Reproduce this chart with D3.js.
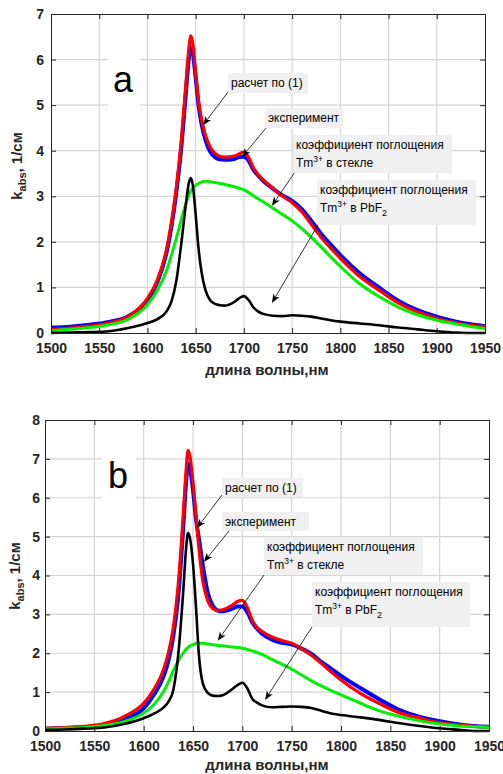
<!DOCTYPE html>
<html>
<head>
<meta charset="utf-8">
<script src="https://cdn.jsdelivr.net/npm/d3@7"></script>
<style>
body { margin: 0; background: #fff; }
text { font-family: "Liberation Sans", Arial, sans-serif; }
</style>
</head>
<body>
<svg width="503" height="774"></svg>
<script>
// wavelengths, nm (shared by every curve)
var wl = [1500,1520,1540,1560,1580,1600,1610,1620,1625,1630,1635,1640,1643,1645,1647,1650,1653,1656,1660,1665,1670,1675,1680,1690,1695,1700,1705,1710,1715,1720,1730,1740,1750,1760,1770,1780,1790,1800,1820,1840,1860,1880,1900,1920,1935,1950];

// panel a
var aCalc  = [0.08,0.11,0.15,0.22,0.36,0.76,1.15,1.85,2.45,3.20,4.20,5.50,6.25,6.52,6.35,5.70,5.10,4.70,4.35,4.08,3.94,3.88,3.86,3.88,3.93,3.97,3.85,3.62,3.47,3.36,3.18,3.00,2.86,2.66,2.38,2.10,1.86,1.64,1.24,0.94,0.66,0.46,0.32,0.22,0.17,0.14];
var aExp   = [0.12,0.14,0.18,0.24,0.37,0.72,1.10,1.78,2.35,3.10,4.05,5.30,6.05,6.27,6.15,5.60,5.00,4.60,4.25,3.98,3.86,3.81,3.80,3.82,3.86,3.87,3.78,3.58,3.45,3.34,3.17,3.02,2.90,2.72,2.46,2.18,1.94,1.71,1.31,1.00,0.71,0.50,0.36,0.25,0.19,0.15];
var aGlass = [0.05,0.08,0.12,0.18,0.30,0.62,0.92,1.38,1.72,2.08,2.48,2.85,3.03,3.12,3.18,3.24,3.28,3.31,3.33,3.32,3.30,3.28,3.26,3.21,3.18,3.14,3.08,3.01,2.94,2.88,2.74,2.60,2.46,2.29,2.10,1.89,1.67,1.46,1.08,0.80,0.57,0.40,0.28,0.20,0.14,0.10];
var aPbF2  = [0.00,0.01,0.02,0.04,0.11,0.22,0.30,0.48,0.70,1.15,1.95,2.85,3.30,3.40,3.25,2.60,1.85,1.35,0.95,0.72,0.64,0.61,0.60,0.68,0.76,0.81,0.72,0.56,0.47,0.42,0.38,0.37,0.39,0.38,0.36,0.32,0.28,0.25,0.21,0.17,0.12,0.08,0.04,0.01,0.00,0.00];

// panel b
var bCalc  = [0.07,0.09,0.12,0.19,0.37,0.71,1.05,1.57,2.00,2.65,3.75,5.50,6.70,7.22,7.05,6.40,5.55,4.70,3.85,3.35,3.15,3.10,3.12,3.24,3.33,3.36,3.18,2.85,2.66,2.56,2.42,2.33,2.26,2.12,1.95,1.74,1.52,1.31,0.96,0.69,0.46,0.33,0.21,0.15,0.12,0.11];
var bExp   = [0.06,0.08,0.10,0.15,0.31,0.58,0.92,1.40,1.80,2.43,3.45,5.20,6.40,6.88,6.75,6.20,5.45,4.95,4.25,3.55,3.22,3.10,3.08,3.15,3.20,3.20,3.06,2.80,2.63,2.50,2.35,2.27,2.23,2.12,1.98,1.78,1.60,1.42,1.10,0.80,0.53,0.36,0.25,0.17,0.13,0.11];
var bGlass = [0.05,0.07,0.09,0.14,0.24,0.46,0.67,1.01,1.25,1.55,1.80,2.00,2.10,2.15,2.19,2.22,2.25,2.26,2.26,2.24,2.22,2.20,2.19,2.16,2.15,2.13,2.10,2.06,2.02,1.97,1.84,1.72,1.59,1.44,1.29,1.16,1.04,0.93,0.71,0.51,0.37,0.26,0.18,0.13,0.11,0.09];
var bPbF2  = [0.03,0.04,0.06,0.09,0.18,0.33,0.44,0.60,0.75,1.05,1.95,3.55,4.70,5.10,4.95,4.30,3.20,1.95,1.22,0.98,0.91,0.90,0.92,1.08,1.18,1.24,1.10,0.83,0.73,0.66,0.61,0.62,0.63,0.62,0.59,0.52,0.45,0.41,0.35,0.28,0.20,0.13,0.07,0.03,0.00,0.00];

var xTicks = [1500,1550,1600,1650,1700,1750,1800,1850,1900,1950];
var yTicksA = [0,1,2,3,4,5,6,7];
var yTicksB = [0,1,2,3,4,5,6,7,8];

var svg = d3.select('svg');
svg.append('rect').attr('width', 503).attr('height', 774).attr('fill', '#fff');

var axisColor = '#262626';

function drawPanel(p) {
	var x = d3.scaleLinear().domain([1500, 1950]).range([p.left, p.right]);
	var y = d3.scaleLinear().domain([0, p.ymax]).range([p.bottom, p.top]);
	var g = svg.append('g');

	// grid
	g.append('g').selectAll('line').data(xTicks.slice(1, -1)).enter().append('line')
		.attr('x1', function(d){return x(d)}).attr('x2', function(d){return x(d)})
		.attr('y1', p.top).attr('y2', p.bottom)
		.attr('stroke', '#d4d4d4').attr('stroke-width', 1.2);
	g.append('g').selectAll('line').data(p.yTicks.slice(1, -1)).enter().append('line')
		.attr('y1', function(d){return y(d)}).attr('y2', function(d){return y(d)})
		.attr('x1', p.left).attr('x2', p.right)
		.attr('stroke', '#d4d4d4').attr('stroke-width', 1.2);

	// panel letter with white background
	g.append('rect').attr('x', p.letterBox[0]).attr('y', p.letterBox[1])
		.attr('width', p.letterBox[2]).attr('height', p.letterBox[3]).attr('fill', '#fff');
	g.append('text').attr('x', p.letterX).attr('y', p.letterY)
		.attr('text-anchor', 'middle').attr('font-size', 36).attr('fill', '#000')
		.text(p.letter);

	// curves
	var line = d3.line()
		.x(function(d, i){return x(wl[i])})
		.y(function(d){return y(d)})
		.curve(d3.curveMonotoneX);
	var series = [
		{v: p.exp, c: '#0000ff', w: 4},
		{v: p.calc, c: '#ff0000', w: 3.2},
		{v: p.glass, c: '#00ee00', w: 3},
		{v: p.pbf2, c: '#000000', w: 2.6}
	];
	g.selectAll('.curve').data(series).enter().append('path')
		.attr('class', 'curve')
		.attr('d', function(d){return line(d.v)})
		.attr('fill', 'none')
		.attr('stroke', function(d){return d.c})
		.attr('stroke-width', function(d){return d.w})
		.attr('stroke-linejoin', 'round');

	// axes (box with inward ticks)
	var bottom = d3.axisBottom(x).tickValues(xTicks).tickSize(-5).tickPadding(10).tickFormat(d3.format('d'));
	var top = d3.axisTop(x).tickValues(xTicks).tickSize(-5).tickFormat('');
	var left = d3.axisLeft(y).tickValues(p.yTicks).tickSize(-5).tickPadding(p.yPad).tickFormat(d3.format('d'));
	var right = d3.axisRight(y).tickValues(p.yTicks).tickSize(-5).tickFormat('');
	[[bottom, 'translate(0,' + p.bottom + ')'], [top, 'translate(0,' + p.top + ')'],
	 [left, 'translate(' + p.left + ',0)'], [right, 'translate(' + p.right + ',0)']].forEach(function(a) {
		var ax = g.append('g').attr('transform', a[1]).call(a[0]);
		ax.select('.domain').attr('stroke', axisColor).attr('stroke-width', 1);
		ax.selectAll('.tick line').attr('stroke', axisColor);
		ax.selectAll('text').attr('fill', axisColor).attr('font-size', 14)
			.attr('font-weight', 'bold').attr('font-family', '"Liberation Sans", Arial, sans-serif');
	});

	// axis titles
	g.append('text').attr('x', 267).attr('y', p.xTitleY)
		.attr('text-anchor', 'middle').attr('font-size', 15).attr('font-weight', 'bold')
		.attr('fill', axisColor).text('длина волны,нм');
	var yt = g.append('text')
		.attr('transform', 'translate(' + p.yTitleX + ',' + p.yTitleY + ') rotate(-90)')
		.attr('text-anchor', 'middle').attr('font-size', 15).attr('font-weight', 'bold')
		.attr('fill', axisColor);
	yt.append('tspan').text('k');
	yt.append('tspan').attr('font-size', 11).attr('dy', 4).text('abs');
	yt.append('tspan').attr('dy', -4).text(', 1/см');

	// annotations
	p.notes.forEach(function(n) {
		var tx = x(n.tip[0]), ty = y(n.tip[1]);
		var ang = Math.atan2(ty - n.from[1], tx - n.from[0]);
		var L = 9, W = 3.5, B = 6.5;
		var ca = Math.cos(ang), sa = Math.sin(ang);
		g.append('line').attr('x1', n.from[0]).attr('y1', n.from[1])
			.attr('x2', tx - ca * 5).attr('y2', ty - sa * 5)
			.attr('stroke', '#000').attr('stroke-width', 0.8);
		var pts = [[tx, ty],
			[tx - ca * L - sa * W, ty - sa * L + ca * W],
			[tx - ca * B, ty - sa * B],
			[tx - ca * L + sa * W, ty - sa * L - ca * W]];
		g.append('path').attr('d', 'M' + pts.join('L') + 'Z').attr('fill', '#000');

		g.append('rect').attr('x', n.box[0]).attr('y', n.box[1])
			.attr('width', n.box[2]).attr('height', n.box[3]).attr('fill', '#f0f0f0');
		var t = g.append('text').attr('x', n.box[0] + 3).attr('y', n.box[1] + 14)
			.attr('font-size', 12).attr('fill', '#000');
		if (n.lines.length === 1) {
			t.text(n.lines[0]);
		} else {
			t.append('tspan').text(n.lines[0]);
			var t2 = g.append('text').attr('x', n.box[0] + 3).attr('y', n.box[1] + 32)
				.attr('font-size', 12).attr('fill', '#000');
			t2.append('tspan').text('Tm');
			t2.append('tspan').attr('font-size', 8.5).attr('dy', -5).text('3+');
			if (n.sub) {
				t2.append('tspan').attr('dy', 5).text(' в PbF');
				t2.append('tspan').attr('font-size', 9).attr('dy', 4).text('2');
			} else {
				t2.append('tspan').attr('dy', 5).text(' в стекле');
			}
		}
	});
}

drawPanel({
	left: 51, right: 485, top: 14, bottom: 333, ymax: 7, yTicks: yTicksA, yPad: 7,
	calc: aCalc, exp: aExp, glass: aGlass, pbf2: aPbF2,
	letter: 'a', letterX: 123, letterY: 92, letterBox: [108, 50, 32, 62],
	xTitleY: 375, yTitleX: 22, yTitleY: 166,
	notes: [
		{lines: ['расчет по (1)'], box: [228, 73, 80, 20], from: [228, 92], tip: [1657.6, 4.56]},
		{lines: ['эксперимент'], box: [265, 108, 78, 20], from: [266, 128], tip: [1698, 3.86]},
		{lines: ['коэффициент поглощения', 'Tm'], box: [293, 135, 159, 38], from: [295, 172], tip: [1729, 2.79]},
		{lines: ['коэффициент поглощения', 'Tm'], sub: true, box: [317, 180, 159, 45], from: [318, 225], tip: [1729, 0.66]}
	]
});

drawPanel({
	left: 45, right: 489, top: 420, bottom: 731, ymax: 8, yTicks: yTicksB, yPad: 5,
	calc: bCalc, exp: bExp, glass: bGlass, pbf2: bPbF2,
	letter: 'b', letterX: 118, letterY: 488, letterBox: [102, 450, 34, 56],
	xTitleY: 770, yTitleX: 20, yTitleY: 576,
	notes: [
		{lines: ['расчет по (1)'], box: [222, 478, 81, 19], from: [222, 495], tip: [1654, 5.22]},
		{lines: ['эксперимент'], box: [222, 512, 87, 19], from: [229, 531], tip: [1661, 4.35]},
		{lines: ['коэффициент поглощения', 'Tm'], box: [264, 537, 159, 38], from: [264, 575], tip: [1675, 2.32]},
		{lines: ['коэффициент поглощения', 'Tm'], sub: true, box: [312, 582, 158, 45], from: [312, 627], tip: [1723, 0.80]}
	]
});
</script>
</body>
</html>
